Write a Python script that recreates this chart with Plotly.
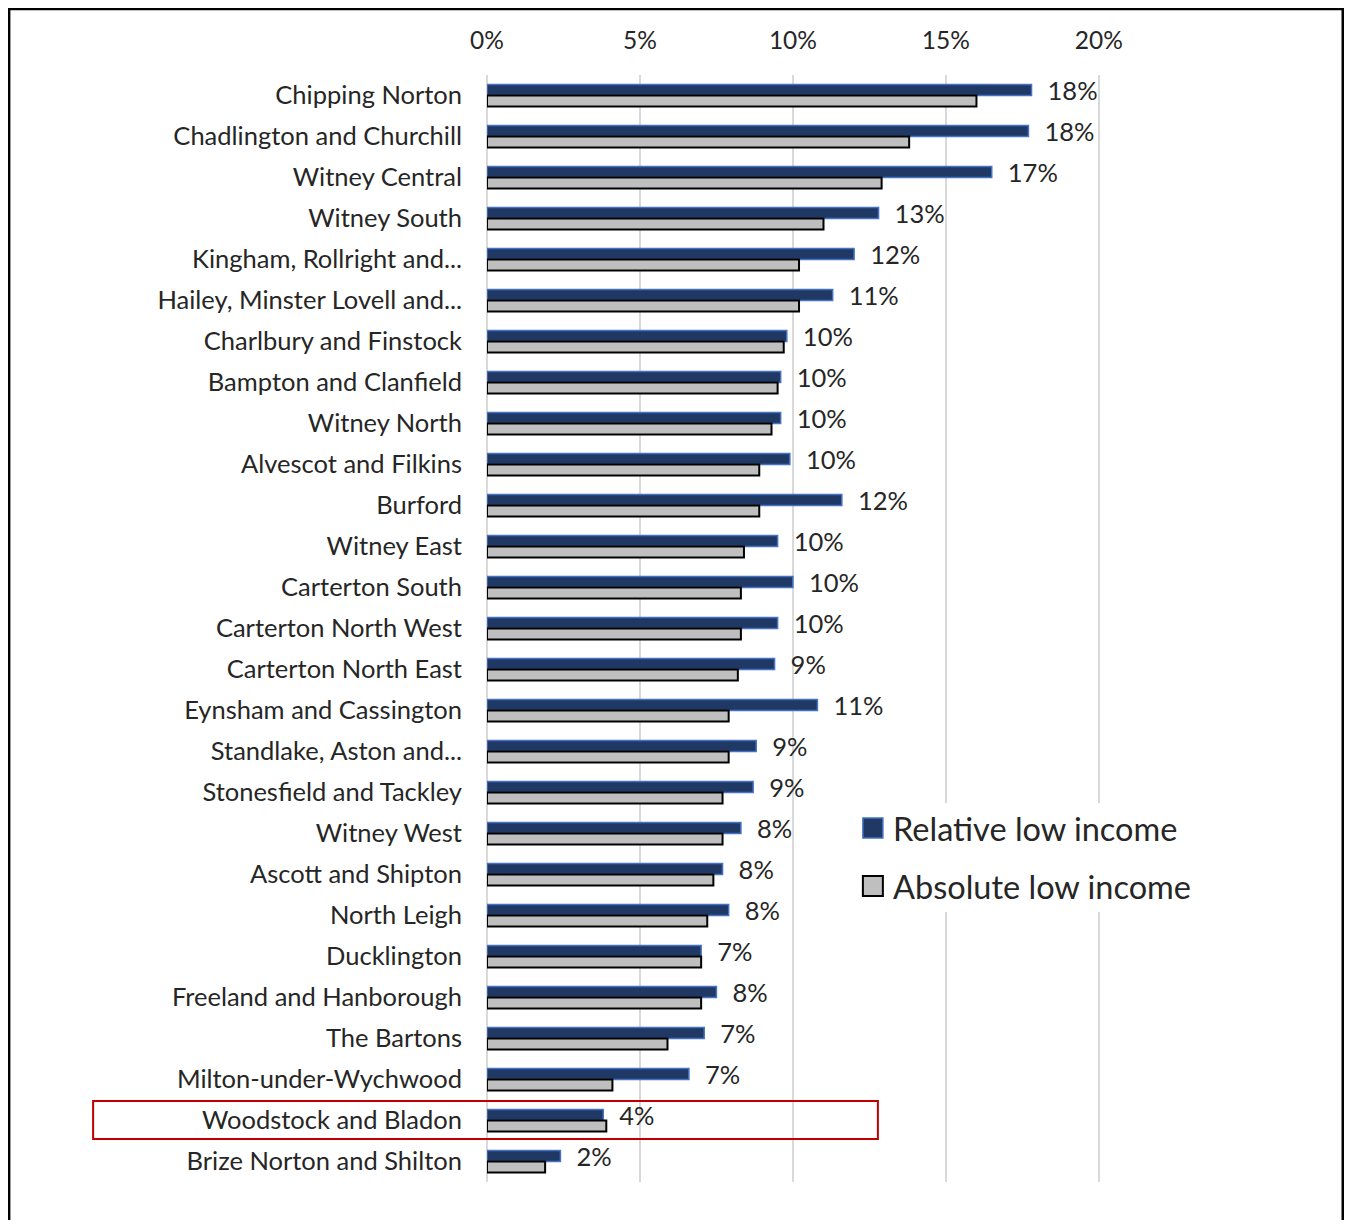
import plotly.graph_objects as go

categories = [
    "Chipping Norton", "Chadlington and Churchill", "Witney Central", "Witney South",
    "Kingham, Rollright and...", "Hailey, Minster Lovell and...", "Charlbury and Finstock",
    "Bampton and Clanfield", "Witney North", "Alvescot and Filkins", "Burford",
    "Witney East", "Carterton South", "Carterton North West", "Carterton North East",
    "Eynsham and Cassington", "Standlake, Aston and...", "Stonesfield and Tackley",
    "Witney West", "Ascott and Shipton", "North Leigh", "Ducklington",
    "Freeland and Hanborough", "The Bartons", "Milton-under-Wychwood",
    "Woodstock and Bladon", "Brize Norton and Shilton",
]
relative = [17.8, 17.7, 16.5, 12.8, 12.0, 11.3, 9.8, 9.6, 9.6, 9.9, 11.6,
            9.5, 10.0, 9.5, 9.4, 10.8, 8.8, 8.7, 8.3, 7.7, 7.9, 7.0,
            7.5, 7.1, 6.6, 3.8, 2.4]
absolute = [16.0, 13.8, 12.9, 11.0, 10.2, 10.2, 9.7, 9.5, 9.3, 8.9, 8.9,
            8.4, 8.3, 8.3, 8.2, 7.9, 7.9, 7.7, 7.7, 7.4, 7.2, 7.0,
            7.0, 5.9, 4.1, 3.9, 1.9]
rel_labels = ["18%", "18%", "17%", "13%", "12%", "11%", "10%", "10%", "10%", "10%", "12%",
              "10%", "10%", "10%", "9%", "11%", "9%", "9%", "8%", "8%", "8%", "7%",
              "8%", "7%", "7%", "4%", "2%"]
series_names = ["Relative low income", "Absolute low income"]
x_ticks = [0, 5, 10, 15, 20]
x_tick_labels = ["0%", "5%", "10%", "15%", "20%"]

FONT = "Lato, 'Open Sans', sans-serif"
OFF = 8  # page body margin
W, H = 1337, 1212
L, T = 487 - OFF, 75 - OFF
XMAX = 22
PX_PER = 30.6
PW = XMAX * PX_PER
R = W - L - PW
B = H - (1182 - OFF)
PH = H - T - B

BLUE, BLUE_EDGE = "#1F3864", "#4472C4"
GREY, GREY_EDGE = "#BFBFBF", "#000000"
TXT = "#262626"

def px_x(sx):
    return (sx - OFF - L) / PW

def px_y(sy):
    return (T + PH - (sy - OFF)) / PH

fig = go.Figure()
fig.add_trace(go.Bar(
    y=categories, x=relative, name=series_names[0], orientation="h",
    marker=dict(color=BLUE, line=dict(color=BLUE_EDGE, width=1.5)),
    text=["\u00a0\u00a0" + t for t in rel_labels], textposition="outside",
    constraintext="none", cliponaxis=False,
    textfont=dict(family=FONT, size=25.5, color=TXT),
    showlegend=False,
))
fig.add_trace(go.Bar(
    y=categories, x=absolute, name=series_names[1], orientation="h",
    marker=dict(color=GREY, line=dict(color=GREY_EDGE, width=2)),
    showlegend=False,
))

shapes = [
    # white legend background covering gridlines
    dict(type="rect", xref="paper", yref="paper", layer="above",
         x0=px_x(850), x1=px_x(1205), y0=px_y(912), y1=px_y(803),
         fillcolor="white", line=dict(width=0)),
    dict(type="rect", xref="paper", yref="paper",
         x0=px_x(93), x1=px_x(878), y0=px_y(1139), y1=px_y(1101),
         line=dict(color="#C00000", width=2), fillcolor="rgba(0,0,0,0)"),
    dict(type="rect", xref="paper", yref="paper",
         x0=px_x(9), x1=px_x(1343), y0=px_y(1240), y1=px_y(9),
         line=dict(color="#000000", width=2.5), fillcolor="rgba(0,0,0,0)"),
]
annotations = []
legend_items = [(BLUE, BLUE_EDGE, 1.5, 828), (GREY, GREY_EDGE, 2, 886)]
for name, (fill, edge, lw, cy) in zip(series_names, legend_items):
    shapes.append(dict(type="rect", xref="paper", yref="paper",
                       x0=px_x(863), x1=px_x(883), y0=px_y(cy + 10), y1=px_y(cy - 10),
                       fillcolor=fill, line=dict(color=edge, width=lw)))
    annotations.append(dict(xref="paper", yref="paper", x=px_x(891), y=px_y(cy),
                            xanchor="left", yanchor="middle", showarrow=False,
                            text=name, font=dict(family=FONT, size=32.5, color=TXT)))

fig.update_layout(
    width=W, height=H,
    margin=dict(l=L, r=R, t=T, b=B, pad=0),
    paper_bgcolor="white", plot_bgcolor="white",
    barmode="group", bargap=0.46, bargroupgap=0,
    font=dict(family=FONT, size=24, color=TXT),
    showlegend=False,
    xaxis=dict(
        side="top", range=[0, XMAX], tickvals=x_ticks, ticktext=x_tick_labels,
        showgrid=True, gridcolor="#D9D9D9", gridwidth=1.5,
        zeroline=True, zerolinecolor="#D9D9D9", zerolinewidth=1.5,
        showline=False, ticks="", ticklabelstandoff=20, layer="below traces",
        tickfont=dict(family=FONT, size=24.5, color=TXT),
    ),
    yaxis=dict(
        autorange="reversed", showgrid=False, showline=False, ticks="",
        ticklabelstandoff=24,
        tickfont=dict(family=FONT, size=25.5, color=TXT),
    ),
    shapes=shapes,
    annotations=annotations,
)

fig.write_html("out.html")
